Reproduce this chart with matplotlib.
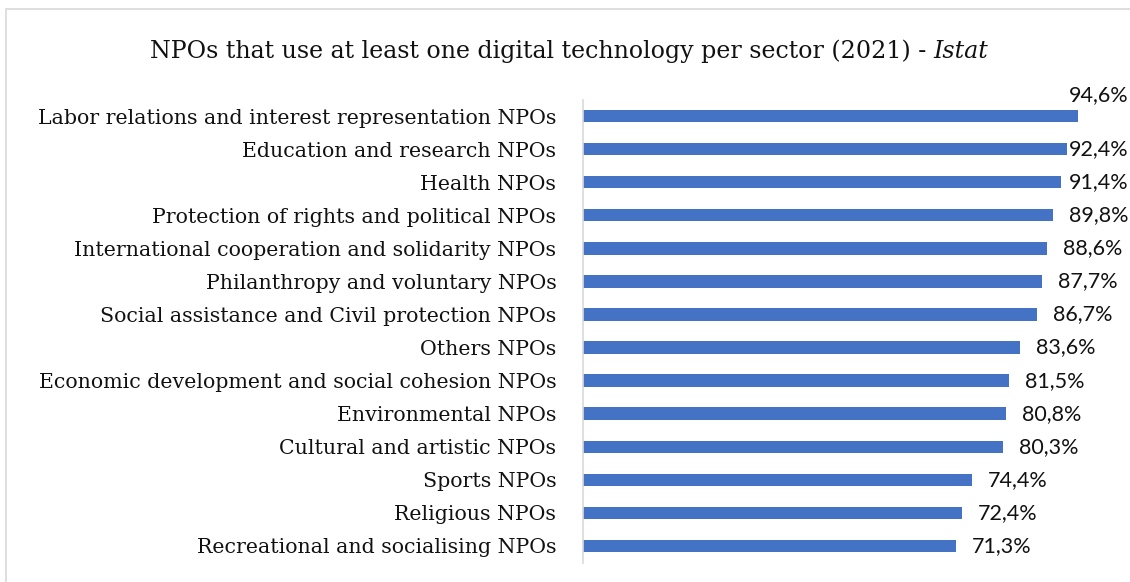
import matplotlib
matplotlib.use("Agg")
import matplotlib.pyplot as plt
from matplotlib.patches import Rectangle

# sector shares, top of the chart first
sectors = [
    "Labor relations and interest representation NPOs",
    "Education and research NPOs",
    "Health NPOs",
    "Protection of rights and political NPOs",
    "International cooperation and solidarity NPOs",
    "Philanthropy and voluntary NPOs",
    "Social assistance and Civil protection NPOs",
    "Others NPOs",
    "Economic development and social cohesion NPOs",
    "Environmental NPOs",
    "Cultural and artistic NPOs",
    "Sports NPOs",
    "Religious NPOs",
    "Recreational and socialising NPOs",
]
shares = [94.6, 92.4, 91.4, 89.8, 88.6, 87.7, 86.7, 83.6, 81.5, 80.8, 80.3, 74.4, 72.4, 71.3]

BAR_COLOR = "#4472C4"
SERIF = ["DejaVu Serif"]
SANS = ["Lato", "DejaVu Sans"]

W, H = 1130, 582
fig = plt.figure(figsize=(W / 100, H / 100), dpi=100)

# light frame around the chart
fig.patches.append(Rectangle((6 / W, -0.1), 1.2, (H - 9) / H + 0.1,
                             transform=fig.transFigure, fill=False,
                             edgecolor="#d9d9d9", linewidth=1.2))

left, right = 582.7, 582.7 + 100 * 5.236
top, bottom = 99.5, 562.5
ax = fig.add_axes([left / W, 1 - bottom / H, (right - left) / W, (bottom - top) / H])

ypos = list(range(len(sectors)))
ax.barh(ypos, shares, height=0.375, color=BAR_COLOR)
ax.set_xlim(0, 100)
ax.set_ylim(len(sectors) - 0.5, -0.5)

for s in ["top", "right", "bottom"]:
    ax.spines[s].set_visible(False)
ax.spines["left"].set_color("#d9d9d9")
ax.spines["left"].set_linewidth(1.2)
ax.set_xticks([])
ax.set_yticks(ypos)
ax.set_yticklabels(sectors, family=SERIF, fontsize=14.8, color="#111111")
ax.tick_params(axis="y", length=0, pad=19)

fig.text(0.5, 1 - 51 / H, "NPOs that use at least one digital technology per sector (2021) - ",
         ha="right", va="center", family=SERIF, fontsize=17.1, color="#111111")
title_main = fig.texts[-1]
fig.canvas.draw()
bb = title_main.get_window_extent()
ital = fig.text(0, 1 - 51 / H, "Istat", ha="left", va="center", family=SERIF,
                style="italic", fontsize=17.1, color="#111111")
start = 150
title_main.set_x((start + bb.width) / W)
ital.set_x((start + bb.width) / W)

# value labels: outside the bar end, pushed back inside the frame when too long
limit_px = 1128
gap = 11.5
renderer = fig.canvas.get_renderer()
for i, v in enumerate(shares):
    label = f"{v:.1f}%".replace(".", ",")
    t = ax.annotate(label, xy=(v, i), xytext=(gap, 0), textcoords="offset points",
                    ha="left", va="center", family=SANS, fontsize=15.5, color="#111111")
    ext = t.get_window_extent(renderer)
    if ext.x1 > limit_px:
        over = ext.x1 - limit_px
        bar_end = ax.transData.transform((v, i))[0]
        if ext.x0 - over < bar_end:
            # no room beside the bar: sit above its end
            t.set_ha("right")
            t.xyann = ((limit_px - bar_end) * 72 / fig.dpi, 15)
        else:
            t.xyann = (gap - over * 72 / fig.dpi, 0)

fig.savefig("out.png", dpi=100)
